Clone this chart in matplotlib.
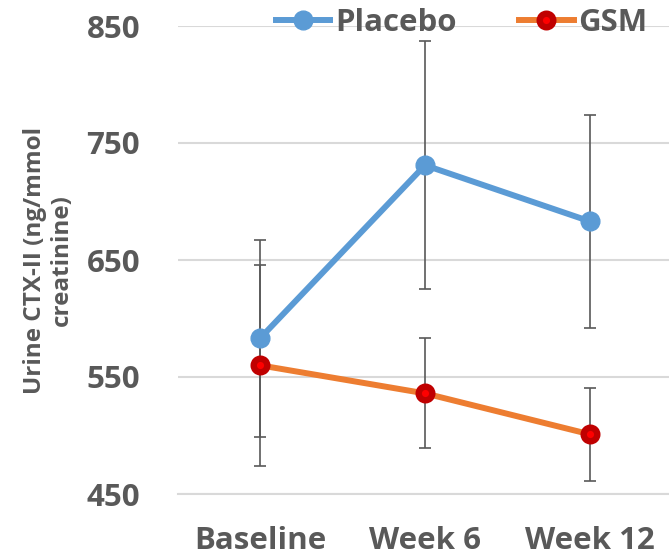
import matplotlib.pyplot as plt

# values
timepoints = ["Baseline", "Week 6", "Week 12"]
placebo_mean = [583, 731, 683]
placebo_err = [84, 106, 91]
gsm_mean = [560, 536, 501]
gsm_err = [86, 47, 40]
y_ticks = [450, 550, 650, 750, 850]

plt.rcParams['font.family'] = ['Open Sans', 'DejaVu Sans']
plt.rcParams['font.weight'] = 'bold'
text_grey = '#595959'

fig = plt.figure(figsize=(6.69, 5.58), dpi=100)
ax = fig.add_axes([177.5 / 669, 64 / 558, 495 / 669, 468 / 558])

x = list(range(len(timepoints)))

ax.errorbar(x, placebo_mean, yerr=placebo_err, fmt='none', ecolor='#595959',
            elinewidth=1.2, capsize=4.5, capthick=1.2, zorder=2)
ax.errorbar(x, gsm_mean, yerr=gsm_err, fmt='none', ecolor='#595959',
            elinewidth=1.2, capsize=4.5, capthick=1.2, zorder=2)

ax.plot(x, placebo_mean, color='#5B9BD5', lw=4.3, marker='o', ms=13.5,
        mfc='#5B9BD5', mec='#5B9BD5', mew=1, label='Placebo', zorder=3)
ax.plot(x, gsm_mean, color='#ED7D31', lw=4.3, marker='o', ms=9.8,
        mfc='#FF0000', mec='#C00000', mew=4.6, label='GSM', zorder=3)

ax.set_xlim(-0.5, 2.5)
ax.set_ylim(450, 850)
ax.set_yticks(y_ticks)
ax.set_xticks(x)
ax.set_xticklabels(timepoints)
ax.tick_params(axis='both', length=0, labelsize=22.5, labelcolor=text_grey)
ax.tick_params(axis='x', pad=23)
ax.tick_params(axis='y', pad=27)

ax.grid(axis='y', color='#D9D9D9', lw=1.5)
ax.set_axisbelow(True)
for side in ['top', 'right', 'left']:
    ax.spines[side].set_visible(False)
ax.spines['bottom'].set_color('#D9D9D9')
ax.spines['bottom'].set_linewidth(1.5)

ax.set_ylabel('Urine CTX-II (ng/mmol\ncreatinine)', fontsize=17.5,
              fontweight='bold', color=text_grey, labelpad=9, linespacing=1.15)

fig.legend(loc='center', bbox_to_anchor=(0.69, 0.958), ncol=2, frameon=False,
           fontsize=22.5, labelcolor=text_grey, handlelength=1.75,
           handletextpad=0.15, columnspacing=2.0)

fig.savefig('out.png', dpi=100)
